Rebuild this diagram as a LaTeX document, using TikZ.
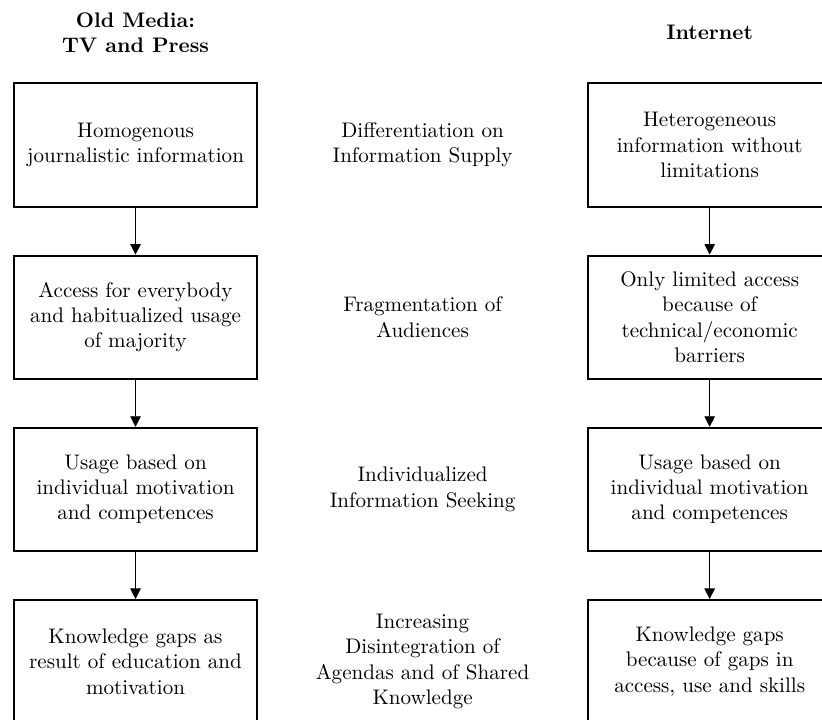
\documentclass[tikz,border=0pt]{standalone}
\usetikzlibrary{
  arrows.meta,
  positioning,
  chains,
  calc
}
\tikzset{
  mediaBox/.style={
    draw,
    line width=0.9pt,
    align=center,
    minimum width=115.5pt,
    minimum height=58.5pt,
    inner sep=2pt
  },
  trendLabel/.style={
    align=center,
    inner sep=0pt
  },
  columnHead/.style={
    align=center,
    font=\bfseries
  }
}

\begin{document}
\begin{tikzpicture}[
      >={Triangle[length=5pt,width=5pt]},
      node distance=22.3pt,
      start chain=old going below
      ]

      \clip (0,0) rectangle (390pt,-341.6pt);

      \node[columnHead] (oldHead) at (64.3pt,-15.4pt) {Old Media:\\TV and Press};
      \node[columnHead] (netHead) at (336.7pt,-15.4pt) {Internet};

      \node[mediaBox, on chain=old] (old1) at (64.3pt,-68.8pt) {Homogenous\\journalistic information};
      \node[mediaBox, on chain=old] (old2) {Access for everybody\\and habitualized usage\\of majority};
      \node[mediaBox, on chain=old] (old3) {Usage based on\\individual motivation\\and competences};
      \node[mediaBox, on chain=old] (old4) {Knowledge gaps as\\result of education and\\motivation};

      \node[mediaBox, right=156pt of old1] (net1) {Heterogeneous\\information without\\limitations};
      \node[mediaBox, right=156pt of old2] (net2) {Only limited access\\because of\\technical/economic\\barriers};
      \node[mediaBox, right=156pt of old3] (net3) {Usage based on\\individual motivation\\and competences};
      \node[mediaBox, right=156pt of old4] (net4) {Knowledge gaps\\because of gaps in\\access, use and skills};

      \foreach \i/\t in {1/{Differentiation on\\Information Supply},
                         2/{Fragmentation of\\Audiences},
                         3/{Individualized\\Information Seeking},
                         4/{Increasing\\Disintegration of\\Agendas and of Shared\\Knowledge}}{
        \node[trendLabel] (mid\i) at ($(old\i.east)!0.5!(net\i.west)$) {\t};
      }

      \foreach \i/\j in {1/2, 2/3, 3/4}{
        \draw[->, line width=0.4pt] (old\i) -- (old\j);
        \draw[->, line width=0.4pt] (net\i) -- (net\j);
      }
    \end{tikzpicture}
\end{document}
